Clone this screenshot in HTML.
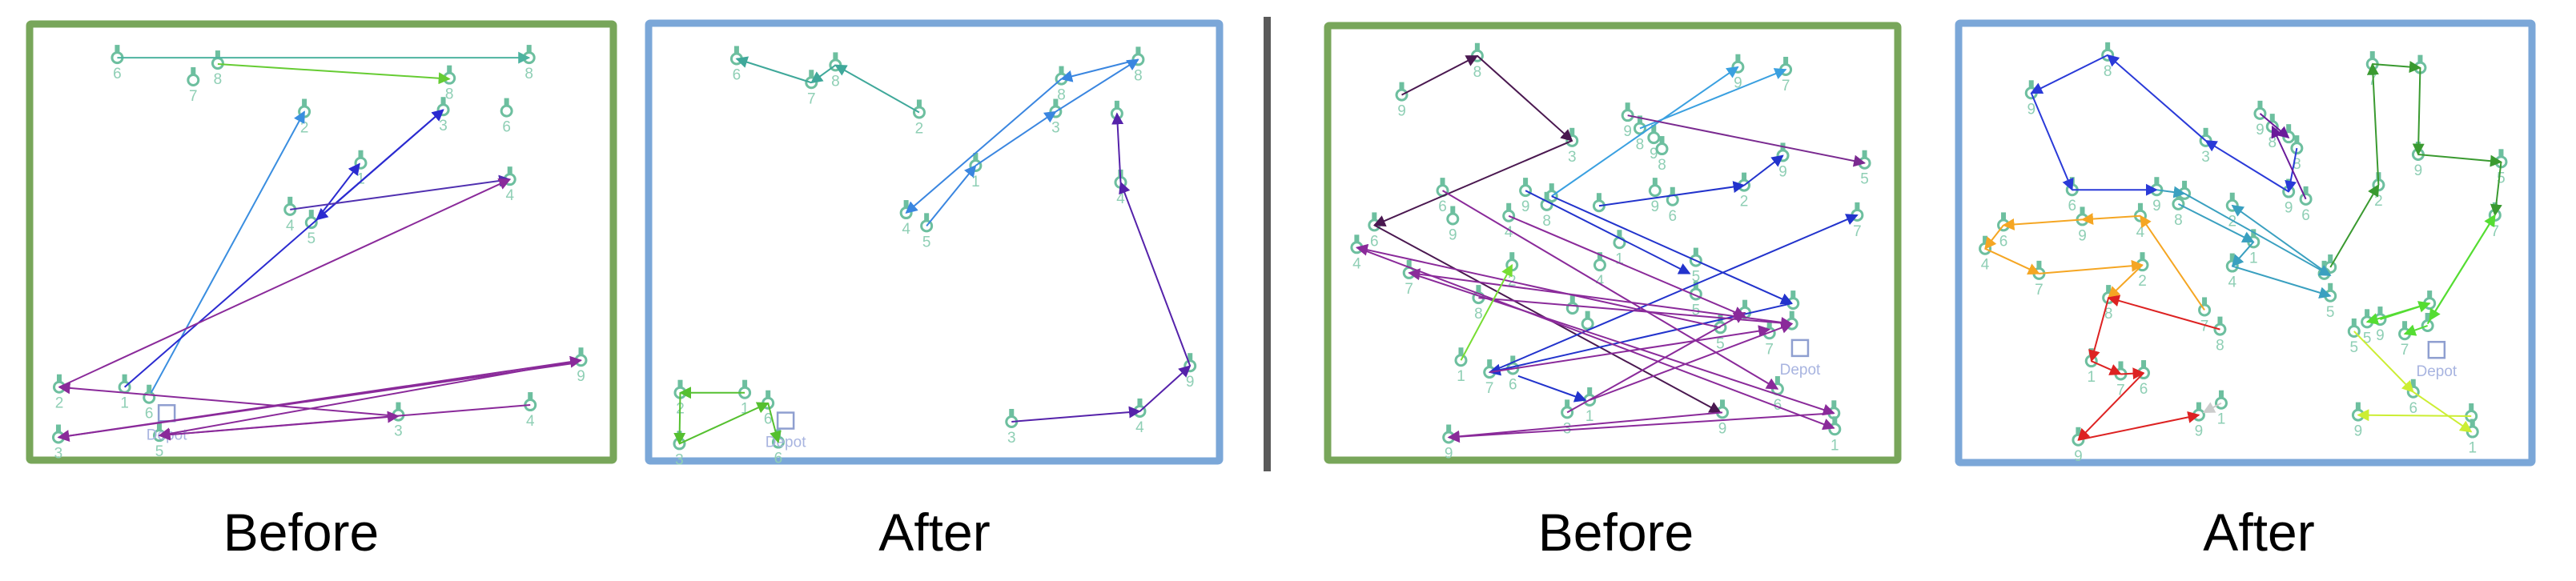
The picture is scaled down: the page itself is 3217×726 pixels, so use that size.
<!DOCTYPE html>
<html><head><meta charset="utf-8"><style>
html,body{margin:0;padding:0;background:#fff;}
body{width:3217px;height:726px;overflow:hidden;position:relative;font-family:"Liberation Sans",Arial,sans-serif;}
svg{position:absolute;left:0;top:0;}
</style></head><body>
<svg id="s" width="3217" height="726" viewBox="0 0 3217 726" xmlns="http://www.w3.org/2000/svg">
<rect x="37" y="30" width="729" height="545" fill="none" stroke="#78a65a" stroke-width="9" rx="2"/>
<rect x="810" y="29" width="713" height="547" fill="none" stroke="#7ba7d8" stroke-width="9" rx="2"/>
<rect x="1578" y="21" width="9" height="568" fill="#5a5a5a"/>
<rect x="1658" y="32" width="712" height="543" fill="none" stroke="#78a65a" stroke-width="9" rx="2"/>
<rect x="2446" y="29" width="716" height="549" fill="none" stroke="#7ba7d8" stroke-width="9" rx="2"/>
<g font-size="66" fill="#000" text-anchor="middle">
<text x="376" y="688">Before</text>
<text x="1167" y="688">After</text>
<text x="2018" y="688">Before</text>
<text x="2821" y="688">After</text>
</g>
<g id="g"></g>
</svg>
<script>
var NS="http://www.w3.org/2000/svg",G=document.getElementById('g'),defs=document.createElementNS(NS,'defs');G.appendChild(defs);
var mk={};
function marker(c){if(mk[c])return mk[c];var id='m'+Object.keys(mk).length;var m=document.createElementNS(NS,'marker');
m.setAttribute('id',id);m.setAttribute('viewBox','0 0 10 10');m.setAttribute('refX','9');m.setAttribute('refY','5');
m.setAttribute('markerWidth','7.5');m.setAttribute('markerHeight','7.5');m.setAttribute('orient','auto');m.setAttribute('markerUnits','strokeWidth');
var p=document.createElementNS(NS,'path');p.setAttribute('d','M0,0 L10,5 L0,10 z');p.setAttribute('fill',c);m.appendChild(p);defs.appendChild(m);mk[c]=id;return id;}
function el(t,a,par){var e=document.createElementNS(NS,t);for(var k in a)e.setAttribute(k,a[k]);(par||G).appendChild(e);return e;}
var NC="#6dbf9f";
function panel(off,nodes,edges,depot){
 var X=function(x){return off+x/1.96},Y=function(y){return y/2.15};
 var ng=el('g',{});
 nodes.forEach(function(n){var x=X(n[0]),y=Y(n[1]);
  el('rect',{x:x-3,y:y-16,width:6,height:10,fill:NC},ng);
  el('circle',{cx:x,cy:y,r:6.5,fill:'none',stroke:NC,'stroke-width':3},ng);
  if(n[2]){var t=el('text',{x:x,y:y+26,'font-size':19,fill:'#8fcfb5','text-anchor':'middle'},ng);t.textContent=n[2];}
 });
 if(depot){var x=X(depot[0]),y=Y(depot[1]);
  el('rect',{x:x-10,y:y-10,width:20,height:20,fill:'none',stroke:'#8f9fd0','stroke-width':2.5},ng);
  var t=el('text',{x:x,y:y+33,'font-size':19,fill:'#a8b4e0','text-anchor':'middle'},ng);t.textContent='Depot';}
 var eg=el('g',{});
 edges.forEach(function(e){var c=e[0];for(var i=1;i+3<=e.length-1;i+=2){
   el('line',{x1:X(e[i]),y1:Y(e[i+1]),x2:X(e[i+2]),y2:Y(e[i+3]),stroke:c,'stroke-width':2,'marker-end':'url(#'+marker(c)+')'},eg);}
 });
}
var P="#8a2a9a";
panel(0,[[287,155,"6"],[473,215,"7"],[533,170,"8"],[1295,155,"8"],[1100,210,"8"],[745,300,"2"],[1085,295,"3"],[1240,298,"6"],[883,438,"1"],[1248,482,"4"],[710,563,"4"],[762,598,"5"],[1422,968,"9"],[145,1040,"2"],[305,1040,"1"],[365,1068,"6"],[975,1115,"3"],[1298,1088,"4"],[143,1175,"3"],[390,1170,"5"]],
[["#4db3a0",287,155,1295,155],["#66cc33",533,172,1100,212],["#3a8ee0",370,1055,745,300],["#2b2bd0",305,1040,1085,295],["#2b2bd0",1085,295,775,590],["#2b2bd0",775,590,880,440],["#5030b0",710,563,1248,482],
[P,145,1040,1248,482],[P,975,1118,145,1040],[P,143,1175,1422,968],[P,1422,968,390,1170],[P,1298,1088,390,1170],[P,390,1170,975,1118],[P,1410,975,143,1175]],[408,1110]);
panel(800,[[235,158,"6"],[418,222,"7"],[477,175,"8"],[682,302,"2"],[1218,160,"8"],[1030,212,"8"],[1016,300,"3"],[1166,305,""],[820,445,"1"],[1175,490,"4"],[650,572,"4"],[700,607,"5"],[1345,983,"9"],[1222,1105,"4"],[908,1133,"3"],[97,1055,"2"],[255,1055,"1"],[312,1083,"6"],[95,1192,"3"],[337,1188,"6"]],
[["#3fa89a",682,302,477,175,418,222,235,158],["#3a86e0",700,607,820,445,1016,300,1218,160,1030,212,650,572],["#5522aa",908,1133,1222,1105,1345,983,1175,490,1166,305],["#55c030",255,1055,97,1055,95,1192,312,1083,337,1188]],[355,1130]);
panel(1600,[[295,255,"9"],[480,150,"8"],[712,378,"3"],[848,310,"9"],[878,345,"8"],[912,370,"9"],[932,400,"8"],[1118,180,"9"],[1235,187,"7"],[1228,418,"9"],[1428,438,"5"],[1133,498,"2"],[395,512,"6"],[420,588,"9"],[598,512,"9"],[650,550,"8"],[662,527,""],[557,580,"4"],[778,553,""],[915,512,"9"],[958,537,"6"],[1410,578,"7"],[228,605,"6"],[185,665,"4"],[828,652,"1"],[780,712,"4"],[565,712,"2"],[313,733,"7"],[1015,700,"5"],[1015,790,"5"],[483,800,"8"],[713,828,""],[750,870,""],[1253,815,""],[1250,870,""],[1195,895,"7"],[1135,840,""],[1075,880,"5"],[440,968,"1"],[510,1000,"7"],[567,990,"6"],[700,1108,"3"],[755,1075,"1"],[1080,1108,"9"],[1215,1045,"6"],[1353,1110,""],[1355,1153,"1"],[410,1175,"9"]],
[["#4a1850",295,255,480,150,712,378,228,605,1075,1108],["#3aa0e0",662,527,1118,180],["#3aa0e0",878,345,1235,187],["#7a2a90",848,310,1428,438],
["#2233cc",778,553,1133,498,1228,418],["#2233cc",598,512,1000,735],["#2233cc",662,527,1250,815,510,1000,1410,578],["#2233cc",580,1010,745,1075],
[P,395,512,1215,1045],[P,557,580,1135,850],[P,185,665,1353,1150],[P,313,733,1353,1110,410,1175],[P,1080,1108,410,1175],[P,1250,870,313,733],[P,700,1108,1135,840],[P,755,1075,1250,870],[P,483,800,1250,870],[P,510,1000,1195,885],[P,1075,880,185,665],["#77dd33",440,968,565,712]],[1270,935]);
panel(2400,[[455,148,"8"],[268,250,"9"],[695,378,"3"],[828,305,"9"],[858,340,"8"],[898,368,""],[918,398,"8"],[898,515,"9"],[940,535,"6"],[368,510,"6"],[575,510,"9"],[643,520,""],[628,548,"8"],[760,552,"2"],[812,650,"1"],[760,715,"4"],[985,735,""],[1000,718,""],[1000,795,"5"],[1103,172,"7"],[1220,182,""],[1215,415,"9"],[1418,435,"5"],[1118,497,"2"],[1403,578,"7"],[535,580,"4"],[393,590,"9"],[200,605,"6"],[155,668,"4"],[287,735,"7"],[540,712,"2"],[457,800,"8"],[692,833,"7"],[730,885,"8"],[415,970,"1"],[487,1005,"7"],[543,1002,"6"],[383,1182,"9"],[678,1115,"9"],[733,1083,"1"],[1243,815,""],[1238,875,""],[1122,858,"9"],[1090,865,"5"],[1182,897,"7"],[1058,890,"5"],[1203,1053,"6"],[1068,1115,"9"],[1345,1118,""],[1348,1160,"1"]],
[["#2a3ad8",918,398,898,515,695,378,455,148,268,250,368,510,575,510],["#6a1a9a",940,535,858,340],["#6a1a9a",828,305,898,370],
["#3aa0c0",575,510,643,520,1000,740],["#3aa0c0",1000,740,760,552],["#3aa0c0",628,548,812,650,760,715,1000,795],
["#3a9a30",1000,718,1118,497,1103,172,1220,182,1215,415,1418,435,1403,578],
["#55dd33",1403,578,1243,860],["#55dd33",1238,870,1403,578],["#55dd33",1243,815,1090,865],["#55dd33",1122,858,1243,815],["#55dd33",1238,875,1182,897],
["#ccee33",1058,890,1203,1053,1345,1160],["#ccee33",1345,1118,1068,1115],
["#f5a623",535,580,393,590,200,605,155,668,287,735,540,712,457,800],["#f5a623",692,833,535,580],
["#dd2222",730,885,457,800,415,970,487,1005,543,1002,383,1182,678,1115],["#cccccc",733,1083,690,1108]],[1260,940]);
</script>
</body></html>
